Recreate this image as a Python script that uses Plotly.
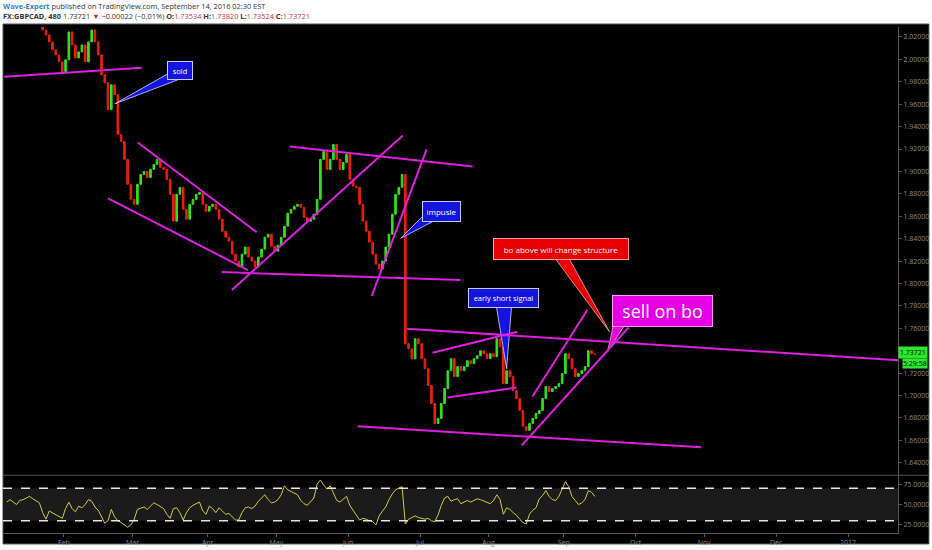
import math
import pandas as pd
import plotly.graph_objects as go

# ---------------- data ----------------
price_start = "2016-01-21"
first_open = 2.0300
closes = [
    2.0262, 2.0218, 2.0156, 2.0085, 2.0040, 1.9978, 1.9889,
    1.9996, 2.0245, 2.0129, 2.0013, 2.0067, 2.0129, 1.9978, 2.0156, 2.0262, 2.0156,
    2.0040, 1.9862, 1.9791, 1.9551, 1.9773, 1.9685, 1.9329, 1.9267, 1.9107, 1.8885,
    1.8751, 1.8707, 1.8885, 1.8973, 1.9000, 1.8947, 1.9018, 1.9062, 1.9107, 1.9036,
    1.9018, 1.8929, 1.8796, 1.8556, 1.8796, 1.8858, 1.8662, 1.8573, 1.8707, 1.8751,
    1.8796, 1.8813, 1.8707, 1.8645, 1.8689, 1.8707, 1.8662, 1.8573, 1.8467, 1.8413,
    1.8378, 1.8262, 1.8200, 1.8147, 1.8262, 1.8325, 1.8236, 1.8200, 1.8147, 1.8236,
    1.8307, 1.8413, 1.8440, 1.8333, 1.8289, 1.8342, 1.8413, 1.8511, 1.8627, 1.8662,
    1.8689, 1.8707, 1.8680, 1.8591, 1.8556, 1.8573, 1.8618, 1.8751, 1.9107, 1.9178,
    1.9018, 1.9107, 1.9240, 1.9107, 1.9018, 1.9080, 1.9151, 1.8929, 1.8867, 1.8858,
    1.8707, 1.8556, 1.8467, 1.8369, 1.8262, 1.8173, 1.8129, 1.8200, 1.8325, 1.8440,
    1.8618, 1.8796, 1.8858, 1.8973, 1.7462, 1.7418, 1.7329, 1.7507, 1.7462, 1.7329,
    1.7240, 1.7089, 1.6929, 1.6751, 1.6796, 1.6929, 1.7062, 1.7222, 1.7329, 1.7169,
    1.7258, 1.7222, 1.7258, 1.7311, 1.7285, 1.7329, 1.7356, 1.7400, 1.7373, 1.7329,
    1.7373, 1.7347, 1.7507, 1.7436, 1.7107, 1.7222, 1.7169, 1.7045, 1.6973, 1.6867,
    1.6725, 1.6689, 1.6751, 1.6796, 1.6840, 1.6867, 1.6973, 1.7080, 1.7036, 1.7062,
    1.7080, 1.7107, 1.7196, 1.7373, 1.7329, 1.7240, 1.7169, 1.7196, 1.7222, 1.7258,
    1.7400, 1.7373, 1.7372,
]

rsi_start = "2016-01-06"
rsi_values = [
    53, 56, 53, 50, 55, 56, 58, 60, 57, 54,
    52, 40, 32, 42, 40, 38, 35, 33, 45, 53,
    45, 41, 48, 46, 50, 56, 54, 47, 43, 35,
    27, 30, 44, 35, 30, 28, 25, 22, 25, 32,
    44, 46, 47, 44, 48, 52, 50, 48, 45, 38,
    33, 45, 46, 40, 31, 40, 46, 49, 51, 53,
    42, 38, 48, 45, 40, 46, 42, 38, 39, 35,
    31, 31, 40, 46, 47, 45, 48, 54, 58, 62,
    56, 52, 53, 56, 62, 73, 68, 66, 65, 62,
    55, 51, 49, 53, 58, 75, 80, 74, 69, 73,
    64, 55, 53, 57, 60, 49, 43, 37, 31, 33,
    32, 30, 29, 25, 36, 42, 47, 56, 63, 68,
    70, 72, 26, 32, 34, 36, 34, 33, 32, 33,
    30, 29, 37, 49, 58, 60, 54, 56, 57, 51,
    53, 55, 53, 55, 57, 56, 54, 53, 51, 55,
    62, 56, 38, 46, 44, 40, 37, 32, 28, 26,
    38, 43, 46, 57, 61, 67, 60, 56, 55, 60,
    68, 78, 72, 60, 55, 50, 52, 56, 67, 65,
    60,
]

# 1.74 is hidden behind the last-price label in the reference
price_ticks = [1.64, 1.66, 1.68, 1.70, 1.72, 1.76, 1.78, 1.80, 1.82,
               1.84, 1.86, 1.88, 1.90, 1.92, 1.94, 1.96, 1.98, 2.00, 2.02]
rsi_ticks = [25, 50, 75]
month_ticks = ["2016-02-01", "2016-03-01", "2016-04-01", "2016-05-02", "2016-06-01",
               "2016-07-01", "2016-08-01", "2016-09-01", "2016-10-03", "2016-11-01",
               "2016-12-01", "2017-01-02"]
month_labels = ["Feb", "Mar", "Apr", "May", "Jun", "Jul", "Aug", "Sep", "Oct",
                "Nov", "Dec", "2017"]

# trend lines: (business days from 2016-02-01, price) pairs
trend_lines = [
    ((-18.3, 1.9845), (23.85, 1.9925)),
    ((22.6, 1.9258), (59.0, 1.8458)),
    ((13.5, 1.8760), (56.3, 1.8120)),
    ((48.3, 1.8102), (121.4, 1.8031)),
    ((51.4, 1.7942), (103.7, 1.9320)),
    ((69.1, 1.9222), (125.1, 1.9045)),
    ((94.2, 1.7889), (111.0, 1.9196)),
    ((104.9, 1.7596), (256.0, 1.7314)),
    ((89.9, 1.6725), (195.1, 1.6538)),
    ((112.8, 1.7382), (138.8, 1.7569)),
    ((117.4, 1.6982), (138.5, 1.7071)),
    ((143.4, 1.6991), (160.2, 1.7764)),
    ((140.1, 1.6555), (172.8, 1.7607)),
]

# callouts: text, centre (bday, price), size px, colour, font size, tail polygon
callouts = [
    ("sold", (35.5, 1.9902), (26, 19), "#1414e0", 7.5,
     [(31.8, 1.9871), (34.9, 1.9818), (15.6, 1.9604)]),
    ("impusle", (115.7, 1.8640), (39, 21), "#1414e0", 8,
     [(109.5, 1.8591), (112.5, 1.8547), (103.1, 1.8404)]),
    ("early short signal", (134.4, 1.7871), (71, 20), "#1414e0", 7.5,
     [(132.4, 1.7791), (137.0, 1.7791), (135.5, 1.7240)]),
    ("bo above will change structure", (152.0, 1.8307), (136, 22), "#e60000", 8,
     [(150.5, 1.8218), (154.7, 1.8218), (167.0, 1.7569)]),
    ("sell on bo", (183.3, 1.7756), (101, 32), "#e600e6", 18,
     [(168.2, 1.7631), (171.3, 1.7613), (166.4, 1.7391)]),
]

last_price = 1.73721

# ---------------- helpers ----------------
BASE = pd.Timestamp("2016-02-01")


def bday(f):
    n = math.floor(f)
    d = BASE + pd.offsets.BDay(n)
    return (d + pd.Timedelta(days=f - n)).strftime("%Y-%m-%d %H:%M")


c_dates = pd.bdate_range(price_start, periods=len(closes)) + pd.Timedelta(hours=12)
r_dates = pd.bdate_range(rsi_start, periods=len(rsi_values)) + pd.Timedelta(hours=12)
opens = [first_open] + closes[:-1]
highs = [max(o, c) for o, c in zip(opens, closes)]
lows = [min(o, c) for o, c in zip(opens, closes)]

FONT = "Open Sans"
GREY = "#8a8a8a"
MAG = "#e01ee0"

fig = go.Figure()
fig.add_trace(go.Candlestick(
    x=c_dates, open=opens, high=highs, low=lows, close=closes,
    increasing=dict(line=dict(color="#2ee61a", width=1), fillcolor="#2ee61a"),
    decreasing=dict(line=dict(color="#f01e0a", width=1), fillcolor="#f01e0a"),
    whiskerwidth=0, showlegend=False, hoverinfo="skip", xaxis="x", yaxis="y"))

fig.add_trace(go.Scatter(
    x=r_dates, y=rsi_values, mode="lines", line=dict(color="#cfcf3a", width=1),
    showlegend=False, hoverinfo="skip", xaxis="x2", yaxis="y2"))

# callout tails
for text, ctr, size, col, fs, tail in callouts:
    fig.add_trace(go.Scatter(
        x=[bday(t[0]) for t in tail] + [bday(tail[0][0])],
        y=[t[1] for t in tail] + [tail[0][1]],
        mode="lines", fill="toself", fillcolor=col,
        line=dict(color="#d8d8ff" if col == "#1414e0" else "#ffb0b0", width=0.8),
        showlegend=False, hoverinfo="skip", xaxis="x", yaxis="y"))

shapes = []
# black chart background (paper)
shapes.append(dict(type="rect", xref="paper", yref="paper", x0=0, x1=1.0346,
                   y0=-0.0217, y1=1.0059, fillcolor="#000000",
                   line=dict(color="#555555", width=1), layer="below"))
# RSI band and dashed levels
shapes.append(dict(type="rect", xref="x2 domain", yref="y2", x0=0, x1=1, y0=30, y1=70,
                   fillcolor="#1b1b1b", line=dict(width=0), layer="below"))
for lvl in (70, 30):
    shapes.append(dict(type="line", xref="x2 domain", yref="y2", x0=0, x1=1, y0=lvl, y1=lvl,
                       line=dict(color="#e6e6e6", width=1.5, dash="dash")))
# pane separator
shapes.append(dict(type="line", xref="paper", yref="paper", x0=0, x1=1.0346,
                   y0=0.1142, y1=0.1142, line=dict(color="#555555", width=1)))
# trend lines
for (a, b) in trend_lines:
    shapes.append(dict(type="line", xref="x", yref="y", x0=bday(a[0]), y0=a[1],
                       x1=bday(b[0]), y1=b[1], line=dict(color=MAG, width=2)))

annotations = []
for text, ctr, size, col, fs, tail in callouts:
    annotations.append(dict(
        x=bday(ctr[0]), y=ctr[1], xref="x", yref="y", text=text, showarrow=False,
        font=dict(family=FONT, size=fs, color="#ffffff"), bgcolor=col,
        bordercolor="#c8c8ff" if col == "#1414e0" else ("#ff9a9a" if col == "#e60000" else "#ff9aff"),
        borderwidth=1, borderpad=0, width=size[0] - 2, height=size[1] - 2,
        xanchor="center", yanchor="middle"))

# header
annotations.append(dict(
    xref="paper", yref="paper", x=-0.0022, y=1.0413, xanchor="left", yanchor="middle",
    showarrow=False, font=dict(family=FONT, size=7.4, color="#333333"),
    text="<b><span style='color:#2f86d6'>Wave-Expert</span></b> published on TradingView.com, September 14, 2016 02:30 EST"))
annotations.append(dict(
    xref="paper", yref="paper", x=-0.0022, y=1.0217, xanchor="left", yanchor="middle",
    showarrow=False, font=dict(family=FONT, size=7.4, color="#333333"),
    text=("<b>FX:GBPCAD, 480</b> 1.73721 <span style='color:#d0202c'>▼</span> −0.00022 (−0.01%) "
          "<b>O:</b><span style='color:#c83248'>1.73534</span> "
          "<b>H:</b><span style='color:#c83248'>1.73820</span> "
          "<b>L:</b><span style='color:#c83248'>1.73524</span> "
          "<b>C:</b><span style='color:#c83248'>1.73721</span>")))
# last price labels on the axis
annotations.append(dict(
    xref="paper", yref="y", x=1.0, y=last_price, yshift=1, xanchor="left", yanchor="middle",
    showarrow=False, text="1.73721", bgcolor="#2ee62e", borderpad=1,
    font=dict(family=FONT, size=7, color="#000000")))
annotations.append(dict(
    xref="paper", yref="y", x=1.0045, y=last_price, yshift=-10, xanchor="left", yanchor="middle",
    showarrow=False, text="5:29:58", bgcolor="#2ee62e", borderpad=0,
    font=dict(family=FONT, size=7, color="#000000")))

x_range = [bday(-18.65), bday(255.3)]
rb = [dict(bounds=["sat", "mon"])]

fig.update_layout(
    width=932, height=550,
    margin=dict(l=3, r=33, t=27, b=15),
    paper_bgcolor="#ffffff", plot_bgcolor="#000000",
    font=dict(family=FONT, color=GREY, size=7),
    shapes=shapes, annotations=annotations,
    xaxis=dict(domain=[0, 1], anchor="y", type="date", range=x_range, rangebreaks=rb,
               showticklabels=False, showgrid=False, zeroline=False,
               rangeslider=dict(visible=False), fixedrange=True),
    xaxis2=dict(domain=[0, 1], anchor="y2", type="date", range=x_range, rangebreaks=rb,
                matches="x", showgrid=False, zeroline=False,
                tickvals=month_ticks, ticktext=month_labels, ticks="outside",
                ticklen=3, tickcolor="#555555", showline=True, linecolor="#555555",
                tickfont=dict(family=FONT, size=7, color=GREY)),
    yaxis=dict(domain=[0.1142, 1], anchor="x", side="right", range=[1.6289, 2.0289],
               tickvals=price_ticks, tickformat=".5f", showgrid=False, zeroline=False,
               ticks="outside", ticklen=3, tickcolor="#555555", showline=True,
               linecolor="#555555", tickfont=dict(family=FONT, size=7, color=GREY)),
    yaxis2=dict(domain=[0, 0.1142], anchor="x2", side="right", range=[15, 86],
                tickvals=rsi_ticks, tickformat=".4f", showgrid=False, zeroline=False,
                ticks="outside", ticklen=3, tickcolor="#555555", showline=True,
                linecolor="#555555", tickfont=dict(family=FONT, size=7, color=GREY)),
)

fig.write_html("out.html", config={"displayModeBar": False},
               post_script="document.body.style.margin='0';document.body.style.overflow='hidden';")
